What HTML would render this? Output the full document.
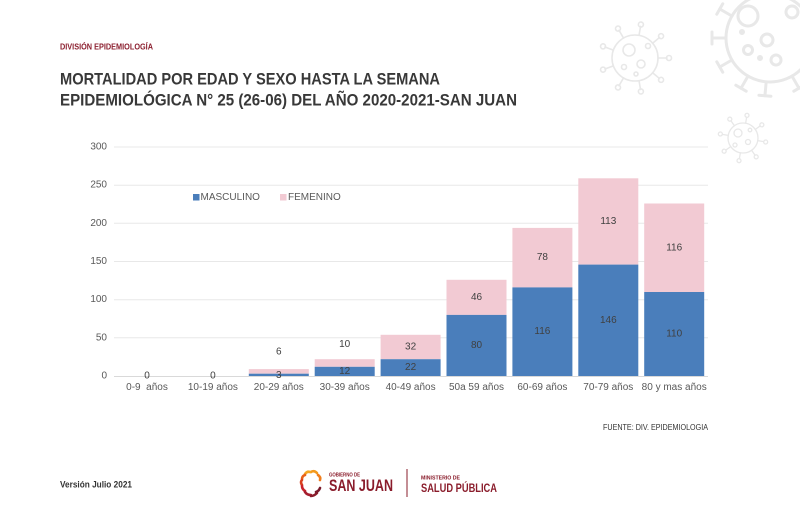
<!DOCTYPE html>
<html>
<head>
<meta charset="utf-8">
<style>
html,body{margin:0;padding:0;background:#fff;}
svg{display:block;}
text{font-family:"Liberation Sans",sans-serif;}
</style>
</head>
<body>
<svg width="800" height="525" viewBox="0 0 800 525" xmlns="http://www.w3.org/2000/svg">
<rect width="800" height="525" fill="#fff"/>

<!-- viruses decoration -->
<g fill="none" stroke="#e8e8e8" stroke-linecap="round">
  <!-- large -->
  <g stroke-width="3">
    <circle cx="770" cy="38" r="44"/>
    <g transform="translate(770,38)">
      <g transform="rotate(150)"><line x1="44" y1="0" x2="58" y2="0"/><line x1="58" y1="-6" x2="58" y2="6"/></g>
      <g transform="rotate(120)"><line x1="44" y1="0" x2="58" y2="0"/><line x1="58" y1="-6" x2="58" y2="6"/></g>
      <g transform="rotate(95)"><line x1="44" y1="0" x2="58" y2="0"/><line x1="58" y1="-6" x2="58" y2="6"/></g>
      <g transform="rotate(180)"><line x1="44" y1="0" x2="58" y2="0"/><line x1="58" y1="-6" x2="58" y2="6"/></g>
      <g transform="rotate(210)"><line x1="44" y1="0" x2="58" y2="0"/><line x1="58" y1="-6" x2="58" y2="6"/></g>
      <g transform="rotate(60)"><line x1="44" y1="0" x2="58" y2="0"/><line x1="58" y1="-6" x2="58" y2="6"/></g>
    </g>
    <circle cx="748" cy="16" r="10"/>
    <circle cx="767" cy="40" r="6"/>
    <circle cx="748" cy="50" r="4.5"/>
    <circle cx="776" cy="60" r="5"/>
    <circle cx="792" cy="12" r="6"/>
    <circle cx="742" cy="32" r="1.5"/>
    <circle cx="760" cy="58" r="1.5"/>
  </g>
  <!-- medium -->
  <g stroke-width="1.6">
    <circle cx="635" cy="58" r="23"/>
    <g transform="translate(635,58)">
      <g transform="rotate(0)"><line x1="23" x2="32"/><circle cx="34" cy="0" r="2.5"/></g>
      <g transform="rotate(40)"><line x1="23" x2="32"/><circle cx="34" cy="0" r="2.5"/></g>
      <g transform="rotate(80)"><line x1="23" x2="32"/><circle cx="34" cy="0" r="2.5"/></g>
      <g transform="rotate(120)"><line x1="23" x2="32"/><circle cx="34" cy="0" r="2.5"/></g>
      <g transform="rotate(160)"><line x1="23" x2="32"/><circle cx="34" cy="0" r="2.5"/></g>
      <g transform="rotate(200)"><line x1="23" x2="32"/><circle cx="34" cy="0" r="2.5"/></g>
      <g transform="rotate(240)"><line x1="23" x2="32"/><circle cx="34" cy="0" r="2.5"/></g>
      <g transform="rotate(280)"><line x1="23" x2="32"/><circle cx="34" cy="0" r="2.5"/></g>
      <g transform="rotate(320)"><line x1="23" x2="32"/><circle cx="34" cy="0" r="2.5"/></g>
    </g>
    <circle cx="629" cy="50" r="6"/>
    <circle cx="641" cy="64" r="4"/>
    <circle cx="648" cy="46" r="2.5"/>
    <circle cx="624" cy="67" r="2.5"/>
    <circle cx="636" cy="74" r="2"/>
  </g>
  <!-- small -->
  <g stroke-width="1.3">
    <circle cx="743" cy="138" r="15"/>
    <g transform="translate(743,138)">
      <g transform="rotate(10)"><line x1="15" x2="21"/><circle cx="23" cy="0" r="2"/></g>
      <g transform="rotate(55)"><line x1="15" x2="21"/><circle cx="23" cy="0" r="2"/></g>
      <g transform="rotate(100)"><line x1="15" x2="21"/><circle cx="23" cy="0" r="2"/></g>
      <g transform="rotate(145)"><line x1="15" x2="21"/><circle cx="23" cy="0" r="2"/></g>
      <g transform="rotate(190)"><line x1="15" x2="21"/><circle cx="23" cy="0" r="2"/></g>
      <g transform="rotate(235)"><line x1="15" x2="21"/><circle cx="23" cy="0" r="2"/></g>
      <g transform="rotate(280)"><line x1="15" x2="21"/><circle cx="23" cy="0" r="2"/></g>
      <g transform="rotate(325)"><line x1="15" x2="21"/><circle cx="23" cy="0" r="2"/></g>
    </g>
    <circle cx="738" cy="133" r="4"/>
    <circle cx="748" cy="142" r="2.5"/>
    <circle cx="735" cy="145" r="2"/>
    <circle cx="750" cy="130" r="1.8"/>
  </g>
</g>

<!-- header -->
<text x="60" y="49.5" font-size="8.5" font-weight="bold" fill="#8b1e2e" textLength="93" lengthAdjust="spacingAndGlyphs">DIVISIÓN EPIDEMIOLOGÍA</text>
<text x="60" y="84.5" font-size="17" font-weight="bold" fill="#383838" textLength="380" lengthAdjust="spacingAndGlyphs">MORTALIDAD POR EDAD Y SEXO HASTA LA SEMANA</text>
<text x="60" y="105.5" font-size="17" font-weight="bold" fill="#383838" textLength="457" lengthAdjust="spacingAndGlyphs">EPIDEMIOLÓGICA N° 25 (26-06) DEL AÑO 2020-2021-SAN JUAN</text>

<!-- gridlines -->
<g stroke="#e8e8e8" stroke-width="1">
  <line x1="114" y1="147" x2="708" y2="147"/>
  <line x1="114" y1="185.2" x2="708" y2="185.2"/>
  <line x1="114" y1="223.3" x2="708" y2="223.3"/>
  <line x1="114" y1="261.5" x2="708" y2="261.5"/>
  <line x1="114" y1="299.7" x2="708" y2="299.7"/>
  <line x1="114" y1="337.8" x2="708" y2="337.8"/>
</g>
<line x1="114" y1="376.5" x2="708" y2="376.5" stroke="#d9d9d9" stroke-width="1"/>

<!-- y labels -->
<g font-size="10" fill="#595959" text-anchor="end" dominant-baseline="central">
  <text x="107" y="147">300</text>
  <text x="107" y="185.2">250</text>
  <text x="107" y="223.3">200</text>
  <text x="107" y="261.5">150</text>
  <text x="107" y="299.7">100</text>
  <text x="107" y="337.8">50</text>
  <text x="107" y="376">0</text>
</g>

<!-- bars -->
<g>
  <rect x="248.8" y="369.1" width="60" height="4.6" fill="#f2cad3"/>
  <rect x="248.8" y="373.7" width="60" height="2.3" fill="#4a7ebb"/>
  <rect x="314.7" y="359.2" width="60" height="7.6" fill="#f2cad3"/>
  <rect x="314.7" y="366.8" width="60" height="9.2" fill="#4a7ebb"/>
  <rect x="380.6" y="334.8" width="60" height="24.4" fill="#f2cad3"/>
  <rect x="380.6" y="359.2" width="60" height="16.8" fill="#4a7ebb"/>
  <rect x="446.5" y="279.8" width="60" height="35.1" fill="#f2cad3"/>
  <rect x="446.5" y="314.9" width="60" height="61.1" fill="#4a7ebb"/>
  <rect x="512.4" y="227.9" width="60" height="59.5" fill="#f2cad3"/>
  <rect x="512.4" y="287.4" width="60" height="88.6" fill="#4a7ebb"/>
  <rect x="578.3" y="178.3" width="60" height="86.3" fill="#f2cad3"/>
  <rect x="578.3" y="264.6" width="60" height="111.4" fill="#4a7ebb"/>
  <rect x="644.2" y="203.5" width="60" height="88.5" fill="#f2cad3"/>
  <rect x="644.2" y="292" width="60" height="84" fill="#4a7ebb"/>
</g>

<!-- data labels -->
<g font-size="10" fill="#404040" text-anchor="middle" dominant-baseline="central">
  <text x="147" y="376">0</text>
  <text x="212.9" y="376">0</text>
  <text x="278.8" y="352">6</text>
  <text x="278.8" y="375.5">3</text>
  <text x="344.7" y="344.5">10</text>
  <text x="344.7" y="371.4">12</text>
  <text x="410.6" y="347">32</text>
  <text x="410.6" y="367.6">22</text>
  <text x="476.5" y="297.4">46</text>
  <text x="476.5" y="345.5">80</text>
  <text x="542.4" y="257.7">78</text>
  <text x="542.4" y="331.7">116</text>
  <text x="608.3" y="221.4">113</text>
  <text x="608.3" y="320.3">146</text>
  <text x="674.2" y="247.8">116</text>
  <text x="674.2" y="334">110</text>
</g>

<!-- x labels -->
<g font-size="10" fill="#595959" text-anchor="middle" dominant-baseline="central">
  <text x="147" y="387.5">0-9&#160; años</text>
  <text x="212.9" y="387.5">10-19 años</text>
  <text x="278.8" y="387.5">20-29 años</text>
  <text x="344.7" y="387.5">30-39 años</text>
  <text x="410.6" y="387.5">40-49 años</text>
  <text x="476.5" y="387.5">50a 59 años</text>
  <text x="542.4" y="387.5">60-69 años</text>
  <text x="608.3" y="387.5">70-79 años</text>
  <text x="674.2" y="387.5">80 y mas años</text>
</g>

<!-- legend -->
<rect x="193" y="194" width="6.5" height="6.5" fill="#4a7ebb"/>
<text x="200.5" y="197.5" font-size="10" fill="#595959" dominant-baseline="central">MASCULINO</text>
<rect x="280" y="194" width="6.5" height="6.5" fill="#f2cad3"/>
<text x="288" y="197.5" font-size="10" fill="#595959" dominant-baseline="central">FEMENINO</text>

<!-- source -->
<text x="603" y="430" font-size="8" fill="#333" textLength="105" lengthAdjust="spacingAndGlyphs">FUENTE: DIV. EPIDEMIOLOGIA</text>

<!-- footer -->
<text x="60" y="487.5" font-size="9" font-weight="bold" fill="#333" textLength="72" lengthAdjust="spacingAndGlyphs">Versión Julio 2021</text>

<!-- logo sunburst -->
<g fill="none" stroke-width="2.6" stroke-linecap="round">
  <path d="M311 472 Q314 470 317 473" stroke="#f39a1e"/>
  <path d="M318 475 Q321 477 320 480" stroke="#f07d1b"/>
  <path d="M305 474 Q307 471 310 472" stroke="#f5a623"/>
  <path d="M302 479 Q302 476 305 475" stroke="#e8611a"/>
  <path d="M302 485 Q300 482 302 480" stroke="#d9401f"/>
  <path d="M305 491 Q302 489 302 486" stroke="#c8232c"/>
  <path d="M311 495 Q307 495 305 492" stroke="#a51d2e"/>
  <path d="M317 493 Q314 496 311 496" stroke="#8a1c2b"/>
  <path d="M320 488 Q319 491 316 492" stroke="#7a1a2b"/>
</g>
<text x="329" y="476.5" font-size="5.5" font-weight="bold" fill="#8a1c2b" textLength="31" lengthAdjust="spacingAndGlyphs">GOBIERNO DE</text>
<text x="329" y="491" font-size="17" font-weight="bold" fill="#8a1c2b" textLength="64" lengthAdjust="spacingAndGlyphs">SAN JUAN</text>
<line x1="407" y1="469" x2="407" y2="497" stroke="#8a1c2b" stroke-width="1"/>
<text x="421" y="479.5" font-size="5.5" font-weight="bold" fill="#8a1c2b" textLength="39" lengthAdjust="spacingAndGlyphs">MINISTERIO DE</text>
<text x="421" y="492" font-size="11.5" font-weight="bold" fill="#8a1c2b" textLength="76" lengthAdjust="spacingAndGlyphs">SALUD PÚBLICA</text>
</svg>
</body>
</html>
